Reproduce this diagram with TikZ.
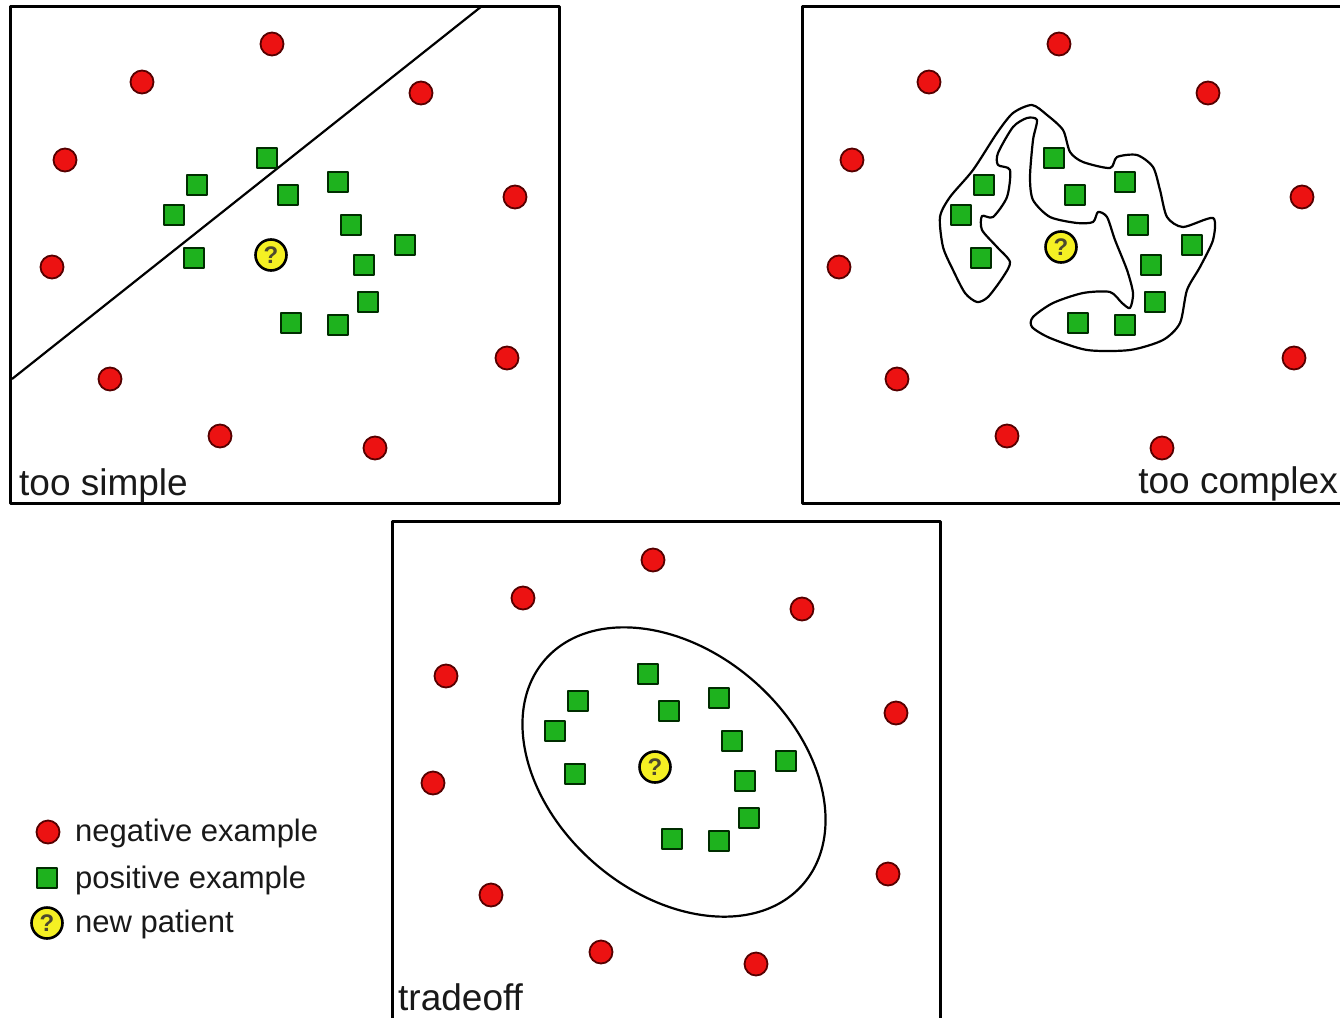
\documentclass[tikz,border=0pt]{standalone}
\usepackage{fontspec}
\setmainfont{Liberation Sans}
\definecolor{negred}{RGB}{236,18,18}
\definecolor{negrim}{RGB}{85,0,0}
\definecolor{posgreen}{RGB}{30,178,30}
\definecolor{posrim}{RGB}{0,45,0}
\definecolor{newyellow}{RGB}{245,240,35}
\newcommand{\negpts}{272/44,142/82,421/93,65/160,515/197,52/267,507/358,110/379,220/436,375/448}
\newcommand{\pospts}{267/158,197/185,174/215,288/195,338/182,351/225,194/258,405/245,364/265,368/302,291/323,338/325}

\begin{document}
\begin{tikzpicture}[x=1pt,y=-1pt,line join=round,
  negdot/.style={circle,fill=negred,draw=negrim,line width=1.8pt,minimum size=23pt,inner sep=0pt},
  posbox/.style={rectangle,fill=posgreen,draw=posrim,line width=2.2pt,minimum size=20pt,inner sep=0pt},
  newdot/.style={circle,fill=newyellow,draw=black,line width=2.6pt,minimum size=31pt,inner sep=0pt,
    font=\fontsize{24}{24}\selectfont\bfseries,text=black!60!olive},
  panel/.style={draw=black,line width=3pt},
  boundary/.style={draw=black,line width=2.2pt},
  paneltext/.style={font=\fontsize{37}{40}\selectfont,text=black!90,inner sep=0pt},
  keytext/.style={font=\fontsize{31}{36}\selectfont,text=black!90,inner sep=0pt,anchor=base west}]
\clip (0,0) rectangle (1340,1017);
\fill[white] (0,0) rectangle (1340,1017);

% too simple
\draw[panel] (10,6) rectangle (559,503);
\coordinate (cutA) at (12,379);
\coordinate (cutB) at (482,6);
\draw[boundary] (cutA) -- (cutB);
\begin{scope}[name prefix=a-]
\foreach \x/\y [count=\i] in \negpts {\node[negdot] (neg\i) at (\x,\y) {};}
\foreach \x/\y [count=\i] in \pospts {\node[posbox] (pos\i) at (\x,\y) {};}
\node[newdot] (new) at (271,255) {?};
\end{scope}
\node[paneltext,anchor=base west] (simple) at (19,495) {too simple};

% too complex
\draw[panel] (802,6) rectangle (1352,503);
\draw[boundary] plot[smooth cycle,tension=0.45] coordinates {
  (940,217) (943,247) (953,270) (965,293) (977,302) (988,297) (1003,277) (1010,262)
  (997,247) (982,230) (982,216) (993,217) (1007,197) (1010,170) (998,165) (998,153)
  (1013,127) (1027,118) (1037,120) (1033,140) (1030,177) (1033,200) (1050,217)
  (1077,223) (1093,222) (1098,212) (1107,217) (1115,240) (1127,270) (1133,293)
  (1130,308) (1122,303) (1110,292) (1083,293) (1053,303) (1033,317) (1032,327)
  (1050,338) (1087,350) (1130,350) (1163,340) (1180,323) (1187,290) (1200,267)
  (1213,240) (1213,218) (1183,227) (1167,217) (1160,190) (1153,167) (1137,155)
  (1117,157) (1110,168) (1083,162) (1070,152) (1063,130) (1047,115) (1032,105)
  (1013,113) (997,133) (973,170) (950,197)};
\begin{scope}[shift={(787,0)},name prefix=b-]
\foreach \x/\y [count=\i] in \negpts {\node[negdot] (neg\i) at (\x,\y) {};}
\foreach \x/\y [count=\i] in \pospts {\node[posbox] (pos\i) at (\x,\y) {};}
\end{scope}
\node[newdot] (b-new) at (1061,247) {?};
\node[paneltext,anchor=base east] (complex) at (1338,493) {too complex};

% tradeoff
\draw[panel] (392,521) rectangle (940,1030);
\draw[boundary,rotate around={-41:(674,772)}] (674,772) ellipse (171 and 121);
\begin{scope}[shift={(381,516)},name prefix=c-]
\foreach \x/\y [count=\i] in \negpts {\node[negdot] (neg\i) at (\x,\y) {};}
\foreach \x/\y [count=\i] in \pospts {\node[posbox] (pos\i) at (\x,\y) {};}
\end{scope}
\node[newdot] (c-new) at (655,767) {?};
\node[paneltext,anchor=base west] (tradeoff) at (398,1010) {tradeoff};

% legend
\node[negdot] (keyneg) at (48,832) {};
\node[posbox] (keypos) at (47,878) {};
\node[newdot] (keynew) at (47,923) {?};
\node[keytext] (negtext) at (75,841) {negative example};
\node[keytext] (postext) at (75,888) {positive example};
\node[keytext] (newtext) at (75,932) {new patient};
\end{tikzpicture}
\end{document}
